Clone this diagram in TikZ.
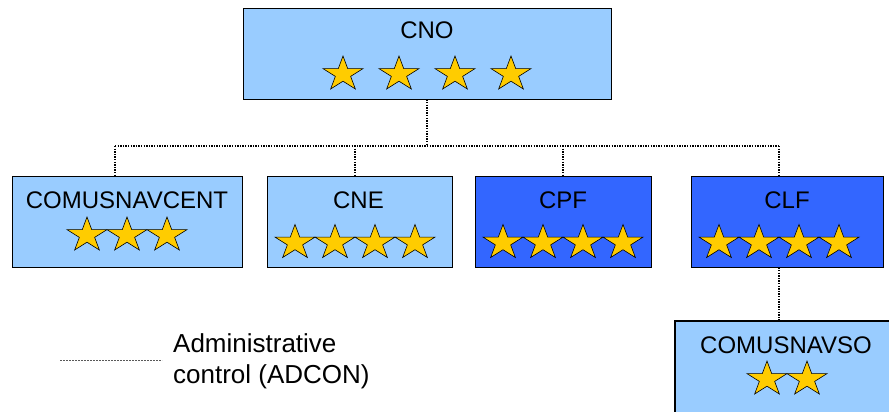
\documentclass[tikz,border=0pt]{standalone}
\usepackage{fontspec}
\setmainfont{Liberation Sans}
\definecolor{lightb}{HTML}{99CCFF}
\definecolor{darkb}{HTML}{3366FF}
\definecolor{gold}{HTML}{FFCC00}
\begin{document}
\begin{tikzpicture}[x=1pt,y=-1pt,
  lbox/.style={draw=black,line width=0.8pt,fill=lightb,inner sep=0pt},
  dbox/.style={draw=black,line width=0.8pt,fill=darkb,inner sep=0pt},
  lbl/.style={inner sep=0pt,anchor=base,font=\fontsize{24}{28}\selectfont},
  leg/.style={inner sep=0pt,anchor=base west,font=\fontsize{26}{30}\selectfont},
  adcon/.style={line width=1.3pt,dash pattern=on 1.3pt off 1.3pt},
  gstar/.pic={\filldraw[fill=gold,draw=black,line width=0.6pt,line join=miter]
    (0,-16.5) -- (4.72,-3.89) -- (20,-3.89) -- (7.64,3.89) -- (12.37,16.5) --
    (0,8.71) -- (-12.37,16.5) -- (-7.64,3.89) -- (-20,-3.89) -- (-4.72,-3.89) -- cycle;}
]
\useasboundingbox (0,0) rectangle (889,412);
\clip (0,0) rectangle (889,412);

% boxes
\node[lbox,minimum width=368pt,minimum height=91pt] (cno) at (427,53.5) {};
\node[lbox,minimum width=230pt,minimum height=91pt] (cent) at (127,221.5) {};
\node[lbox,minimum width=185pt,minimum height=91pt] (cne) at (359.5,221.5) {};
\node[dbox,minimum width=176pt,minimum height=91pt] (cpf) at (563,221.5) {};
\node[dbox,minimum width=192pt,minimum height=91pt] (clf) at (787,221.5) {};
\node[draw=black,line width=2.5pt,fill=lightb,inner sep=0pt,minimum width=220pt,minimum height=99pt] (so) at (785,370.5) {};

% labels
\node[lbl] (cnot) at (427,39) {CNO};
\node[lbl] (centt) at (127,208) {COMUSNAVCENT};
\node[lbl] (cnet) at (358.5,208) {CNE};
\node[lbl] (cpft) at (563,208) {CPF};
\node[lbl] (clft) at (787,208) {CLF};
\node[lbl] (sot) at (786,353) {COMUSNAVSO};

% stars
\foreach \x in {343,399,455,511} \pic at (\x,72.5) {gstar};
\foreach \x in {87,127,167} \pic at (\x,233.5) {gstar};
\foreach \x in {295,335,375,415} \pic at (\x,241) {gstar};
\foreach \x in {503,543,583,623} \pic at (\x,241) {gstar};
\foreach \x in {719,759,799,839} \pic at (\x,241) {gstar};
\foreach \x in {767,807} \pic at (\x,377.5) {gstar};

% connectors
\coordinate (bus) at (427,146);
\coordinate (jA) at (115,146);
\coordinate (jB) at (355,146);
\coordinate (jC) at (563,146);
\coordinate (jD) at (779,146);
\draw[adcon] (cno.south) -- (bus);
\draw[adcon] (jA) -- (jD);
\draw[adcon] (jA) -- (jA |- cent.north);
\draw[adcon] (jB) -- (jB |- cne.north);
\draw[adcon] (jC) -- (jC |- cpf.north);
\draw[adcon] (jD) -- (jD |- clf.north);
\draw[adcon] (clf.south -| jD) -- (jD |- so.north);

% legend
\coordinate (legA) at (60,360);
\coordinate (legB) at (162,360);
\draw[gray!70!black,line width=1pt,dash pattern=on 2pt off 1pt] (legA) -- (legB);
\node[leg] (leg1) at (173,352) {Administrative};
\node[leg] (leg2) at (173,383) {control (ADCON)};
\end{tikzpicture}
\end{document}
